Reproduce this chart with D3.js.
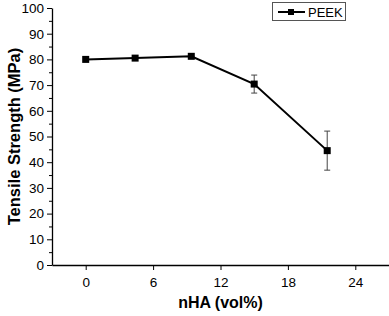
<!DOCTYPE html>
<html>
<head>
<meta charset="utf-8">
<script src="https://cdn.jsdelivr.net/npm/d3@7"></script>
<style>
  body { margin: 0; background: #fff; }
  text { font-family: "Liberation Sans", Arial, sans-serif; }
</style>
</head>
<body>
<div id="chart"></div>
<script>
const nha = [0, 4.4, 9.4, 15.0, 21.5];
const strength = [80.0, 80.5, 81.2, 70.4, 44.5];
const errors = [0.6, 0.6, 0.6, 3.5, 7.6];
const xTicks = [0, 6, 12, 18, 24];
const yTicks = [0, 10, 20, 30, 40, 50, 60, 70, 80, 90, 100];

const width = 389, height = 316;
const margin = {top: 8, right: 0, bottom: 51, left: 52};

const svg = d3.select("#chart").append("svg")
    .attr("width", width)
    .attr("height", height);

const xScale = d3.scaleLinear().domain([-3, 27]).range([margin.left, width - margin.right]);
const yScale = d3.scaleLinear().domain([0, 100]).range([height - margin.bottom, margin.top]);

// y axis with minor ticks
const yAxis = d3.axisLeft(yScale).tickValues(yTicks).tickSize(5).tickSizeOuter(0).tickPadding(3);
const yMinor = d3.axisLeft(yScale).tickValues(d3.range(5, 100, 10)).tickSize(3).tickFormat("");

svg.append("g")
    .attr("transform", "translate(" + margin.left + ",0)")
    .call(yMinor)
    .call(g => g.select(".domain").remove());

const gy = svg.append("g")
    .attr("transform", "translate(" + margin.left + ",0)")
    .call(yAxis);

const gx = svg.append("g")
    .attr("transform", "translate(0," + (height - margin.bottom) + ")")
    .call(d3.axisBottom(xScale).tickValues(xTicks).tickSize(5).tickSizeOuter(0).tickPadding(7));

[gx, gy].forEach(g => {
    g.selectAll("text").attr("font-size", "13.5px").attr("fill", "#000")
     .style("font-family", "'Liberation Sans', Arial, sans-serif");
    g.select(".domain").attr("stroke", "#000").attr("stroke-width", 1.3);
});
svg.selectAll(".tick line").attr("stroke", "#000");

// axis titles
svg.append("text")
    .attr("x", (xScale(-3) + xScale(27)) / 2)
    .attr("y", 308)
    .attr("text-anchor", "middle")
    .attr("font-size", "16px")
    .attr("font-weight", "bold")
    .text("nHA (vol%)");

svg.append("text")
    .attr("transform", "translate(20," + ((yScale(0) + yScale(100)) / 2) + ") rotate(-90)")
    .attr("text-anchor", "middle")
    .attr("font-size", "16.5px")
    .attr("font-weight", "bold")
    .text("Tensile Strength (MPa)");

const data = nha.map((x, i) => ({x: x, y: strength[i], e: errors[i]}));

// error bars
const eb = svg.append("g").attr("stroke", "#444").attr("stroke-width", 1);
data.filter(d => d.e > 1).forEach(d => {
    eb.append("line")
        .attr("x1", xScale(d.x)).attr("x2", xScale(d.x))
        .attr("y1", yScale(d.y - d.e)).attr("y2", yScale(d.y + d.e));
    [d.y - d.e, d.y + d.e].forEach(v => {
        eb.append("line")
            .attr("x1", xScale(d.x) - 3).attr("x2", xScale(d.x) + 3)
            .attr("y1", yScale(v)).attr("y2", yScale(v));
    });
});

// line
svg.append("path")
    .datum(data)
    .attr("fill", "none")
    .attr("stroke", "#000")
    .attr("stroke-width", 2)
    .attr("d", d3.line().x(d => xScale(d.x)).y(d => yScale(d.y)));

// markers
svg.selectAll("rect.marker")
    .data(data)
    .enter().append("rect")
    .attr("class", "marker")
    .attr("x", d => xScale(d.x) - 3.5)
    .attr("y", d => yScale(d.y) - 3.5)
    .attr("width", 7)
    .attr("height", 7)
    .attr("fill", "#000");

// legend
const lg = svg.append("g").attr("transform", "translate(272,2)");
lg.append("rect")
    .attr("x", 0.5).attr("y", 0.5)
    .attr("width", 73).attr("height", 18)
    .attr("fill", "#fff").attr("stroke", "#555").attr("stroke-width", 1);
lg.append("line")
    .attr("x1", 6).attr("x2", 33).attr("y1", 10).attr("y2", 10)
    .attr("stroke", "#000").attr("stroke-width", 2);
lg.append("rect")
    .attr("x", 16).attr("y", 7).attr("width", 6).attr("height", 6).attr("fill", "#000");
lg.append("text")
    .attr("x", 36).attr("y", 15)
    .attr("font-size", "13px")
    .text("PEEK");
</script>
</body>
</html>
